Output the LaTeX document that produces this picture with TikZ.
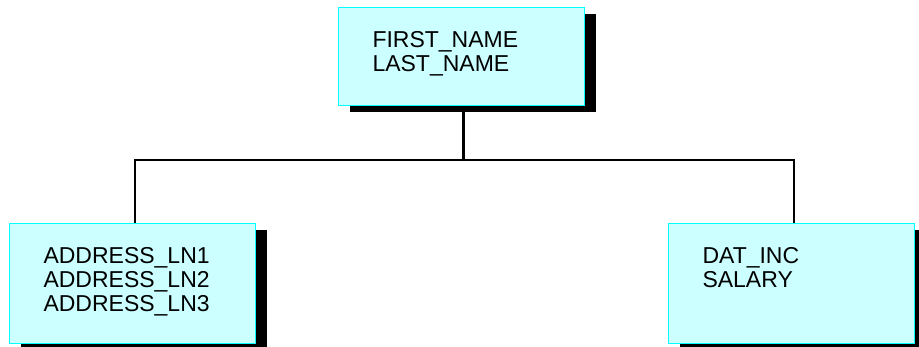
\documentclass[tikz,border=0pt]{standalone}
\usepackage{fontspec}
\setmainfont{Liberation Sans}
\usetikzlibrary{shadows}
\definecolor{recfill}{HTML}{CCFFFF}
\definecolor{recline}{HTML}{00FFFF}
\newcommand{\reclines}[2]{\parbox[t][#1][t]{178pt}{\raggedright #2}}

\begin{document}
\begin{tikzpicture}[x=1pt,y=-1pt,
  record/.style={rectangle, draw=recline, line width=1pt, fill=recfill,
    anchor=north west, inner xsep=34pt, inner ysep=24pt,
    font=\fontsize{23}{24}\selectfont,
    drop shadow={shadow xshift=11pt, shadow yshift=-6pt, fill=black, opacity=1}},
  link/.style={line width=2.5pt}]
  \useasboundingbox (0,0) rectangle (919,346);

  \node[record] (top) at (338,7) {\reclines{50pt}{FIRST\_NAME\\LAST\_NAME}};
  \node[record] (left) at (9,223) {\reclines{72pt}{ADDRESS\_LN1\\ADDRESS\_LN2\\ADDRESS\_LN3}};
  \node[record] (right) at (668,223) {\reclines{72pt}{DAT\_INC\\SALARY}};

  % tree connectors
  \path (top.south) ++(2,54) coordinate (bus);
  \draw[link] ([xshift=2pt]top.south) -- (bus);
  \draw[link] ([xshift=2.5pt]left.north) |- (bus) -| ([xshift=2.5pt]right.north);
\end{tikzpicture}
\end{document}
